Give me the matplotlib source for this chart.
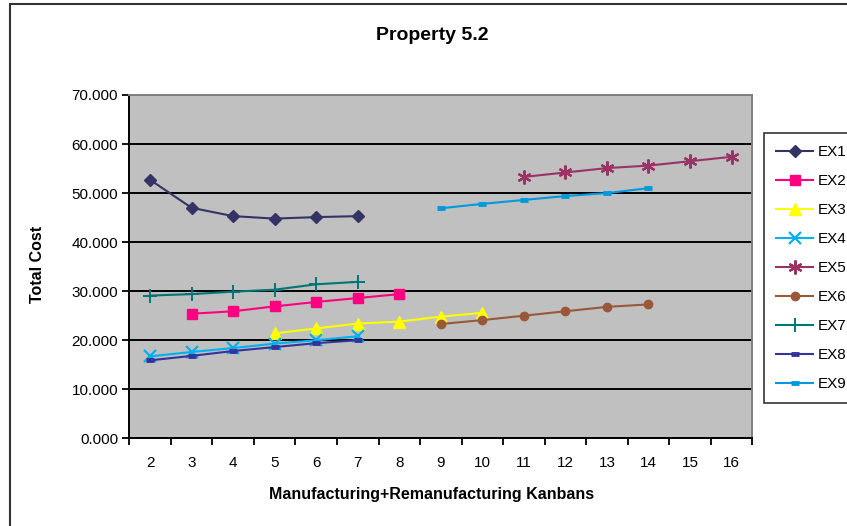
import matplotlib
matplotlib.use("Agg")
import matplotlib.pyplot as plt
from matplotlib.patches import Rectangle
import numpy as np

plt.rcParams.update({
    "font.family": ["Liberation Sans", "DejaVu Sans"],
    "figure.dpi": 100,
})

kanbans = list(range(2, 17))

# x positions (kanban count) and total cost for each example
ex1_x = [2, 3, 4, 5, 6, 7]
ex1_y = [52.7, 47.0, 45.3, 44.8, 45.1, 45.3]
ex2_x = [3, 4, 5, 6, 7, 8]
ex2_y = [25.4, 25.9, 26.9, 27.8, 28.6, 29.4]
ex3_x = [5, 6, 7, 8, 9, 10]
ex3_y = [21.4, 22.4, 23.4, 23.8, 24.8, 25.6]
ex4_x = [2, 3, 4, 5, 6, 7]
ex4_y = [16.7, 17.6, 18.4, 19.3, 20.0, 20.8]
ex5_x = [11, 12, 13, 14, 15, 16]
ex5_y = [53.3, 54.2, 55.1, 55.6, 56.5, 57.4]
ex6_x = [9, 10, 11, 12, 13, 14]
ex6_y = [23.3, 24.1, 25.0, 25.9, 26.8, 27.3]
ex7_x = [2, 3, 4, 5, 6, 7]
ex7_y = [29.1, 29.4, 29.9, 30.3, 31.4, 31.9]
ex8_x = [2, 3, 4, 5, 6, 7]
ex8_y = [15.9, 16.8, 17.8, 18.6, 19.4, 20.0]
ex9_x = [9, 10, 11, 12, 13, 14]
ex9_y = [46.9, 47.8, 48.6, 49.4, 50.0, 51.0]

series = [
    ("EX1", ex1_x, ex1_y, "#333366", "D", 6.5, {}),
    ("EX2", ex2_x, ex2_y, "#ff0080", "s", 6.5, {}),
    ("EX3", ex3_x, ex3_y, "#ffff00", "^", 8, {}),
    ("EX4", ex4_x, ex4_y, "#00b0f0", "x", 8, {"markeredgewidth": 1.6}),
    ("EX5", ex5_x, ex5_y, "#993366", (6, 2, 0), 10, {"markeredgewidth": 1.6}),
    ("EX6", ex6_x, ex6_y, "#99583a", "o", 6, {}),
    ("EX7", ex7_x, ex7_y, "#007575", "+", 10, {"markeredgewidth": 1.4}),
    ("EX8", ex8_x, ex8_y, "#333399", "_", 6, {"markeredgewidth": 3.5}),
    ("EX9", ex9_x, ex9_y, "#0099dd", "_", 6, {"markeredgewidth": 3.5}),
]

fig = plt.figure(figsize=(8.47, 5.26))
ax = fig.add_axes([129.3 / 847, 1 - 438.3 / 526, 623 / 847, 343.3 / 526])
ax.set_facecolor("#c0c0c0")

for name, xs, ys, col, mk, ms, kw in series:
    ax.plot(xs, ys, color=col, linewidth=1.5, marker=mk, markersize=ms,
            markerfacecolor=col, markeredgecolor=col, label=name, **kw)

ax.set_xlim(1.5, 16.5)
ax.set_ylim(0, 70)
ax.set_xticks(np.arange(1.5, 17, 1.0))
ax.set_xticklabels([])
ax.set_xticks(kanbans, minor=True)
ax.set_xticklabels([str(k) for k in kanbans], minor=True, fontsize=11)
ax.tick_params(axis="x", which="minor", length=0, pad=13)
ax.tick_params(axis="x", which="major", length=5, width=1.3, direction="out")
ax.set_yticks(np.arange(0, 71, 10))
ax.set_yticklabels([f"{v:.3f}" for v in np.arange(0, 71, 10)], fontsize=11)
ax.tick_params(axis="y", length=5, width=1.3, direction="out", pad=3)
ax.yaxis.grid(True, color="black", linewidth=1.4)
ax.set_axisbelow(True)
for s in ["left", "bottom"]:
    ax.spines[s].set_color("black")
    ax.spines[s].set_linewidth(1.4)
for s in ["right", "top"]:
    ax.spines[s].set_color("#808080")
    ax.spines[s].set_linewidth(1.4)

fig.text(432 / 847, 1 - 35 / 526, "Property 5.2", ha="center", va="center",
         fontsize=14, fontweight="bold")
fig.text(37 / 847, 1 - 264 / 526, "Total Cost", ha="center", va="center",
         rotation=90, fontsize=11.5, fontweight="bold")
fig.text(432 / 847, 1 - 495 / 526, "Manufacturing+Remanufacturing Kanbans",
         ha="center", va="center", fontsize=11.5, fontweight="bold")

leg = fig.legend(loc="upper left", bbox_to_anchor=(764 / 847, 1 - 133 / 526),
                 fontsize=11, frameon=True, fancybox=False, edgecolor="black",
                 handlelength=2.4, handletextpad=0.3, labelspacing=0.98,
                 borderpad=0.8, borderaxespad=0)
leg.get_frame().set_linewidth(1.2)

fig.add_artist(Rectangle((10 / 847, -0.05), 1.2, 1 - 4 / 526 + 0.05,
                         transform=fig.transFigure, fill=False,
                         edgecolor="#333333", linewidth=1.5))

fig.savefig("out.png", dpi=100)
